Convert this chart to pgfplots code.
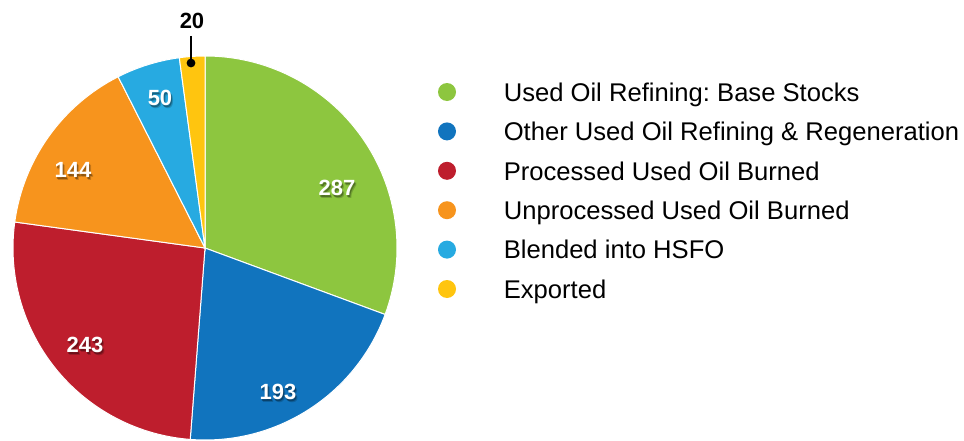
\documentclass[border=0pt]{standalone}
\usepackage{pgfplots}
\pgfplotsset{compat=1.18}
\usepackage{fontspec}
\setmainfont{Liberation Sans}
\frenchspacing

\definecolor{cGreen}{HTML}{8DC63F}
\definecolor{cBlue}{HTML}{1174BE}
\definecolor{cRed}{HTML}{BE1E2D}
\definecolor{cOrange}{HTML}{F7941D}
\definecolor{cLight}{HTML}{27AAE1}
\definecolor{cYellow}{HTML}{FFC50F}

% pie centre and radius, in pixel units of the axis (1 unit = 0.5pt)
\newcommand\total{937}
% #1 cumulative start, #2 cumulative end, #3 colour
\newcommand\slice[3]{%
  \fill[#3, draw=white, line width=0.5pt] (axis cs:205,192) -- ++({90-#1/\total*360}:96pt)
    arc[start angle={90-#1/\total*360}, end angle={90-#2/\total*360}, radius=96pt] -- cycle;}
% white bold value label with a soft shadow
\newcommand\vlabel[3]{%
  \node[font=\bfseries\fontsize{11}{13}\selectfont, text=black, opacity=0.18] at (axis cs:#1+2,#2-3) {#3};
  \node[font=\bfseries\fontsize{11}{13}\selectfont, text=black, opacity=0.3] at (axis cs:#1+1,#2-2) {#3};
  \node[font=\bfseries\fontsize{11}{13}\selectfont, text=white] at (axis cs:#1,#2) {#3};}

\begin{document}
\begin{tikzpicture}
\begin{axis}[
  name=ax,
  x=0.5pt, y=0.5pt,
  xmin=0, xmax=964, ymin=0, ymax=440,
  hide axis, clip=false,
  legend image code/.code={\fill[#1, draw=none] (0pt,0pt) circle (4.5pt); \path (28.2pt,0pt);},
  legend cell align=left,
  legend style={
    at={(axis cs:438,360)}, anchor=north west,
    draw=none, fill=none, inner sep=0pt, outer sep=0pt,
    font=\fontsize{12.8}{15}\selectfont,
    row sep=7.7pt, column sep=0pt,
    nodes={inner sep=0pt, outer sep=0pt, text height=10.6pt, text depth=1.4pt},
  },
]
\slice{0}{287}{cGreen}
\slice{287}{480}{cBlue}
\slice{480}{723}{cRed}
\slice{723}{867}{cOrange}
\slice{867}{917}{cLight}
\slice{917}{937}{cYellow}

\vlabel{337}{252}{287}
\vlabel{278}{48}{193}
\vlabel{85}{95}{243}
\vlabel{73}{270}{144}
\vlabel{160}{342}{50}

\draw[black, line width=1.1pt] (axis cs:191,404) -- (axis cs:191,377);
\fill[black] (axis cs:191,377) circle (2.2pt);
\node[font=\bfseries\fontsize{11}{13}\selectfont] at (axis cs:192,419) {20};

\addlegendimage{fill=cGreen}
\addlegendimage{fill=cBlue}
\addlegendimage{fill=cRed}
\addlegendimage{fill=cOrange}
\addlegendimage{fill=cLight}
\addlegendimage{fill=cYellow}
\legend{Used Oil Refining: Base Stocks, Other Used Oil Refining \& Regeneration,
  Processed Used Oil Burned, Unprocessed Used Oil Burned, Blended into HSFO, Exported}
\end{axis}
\pgfresetboundingbox
\path[use as bounding box] (ax.south west) rectangle (ax.north east);
\end{tikzpicture}
\end{document}
